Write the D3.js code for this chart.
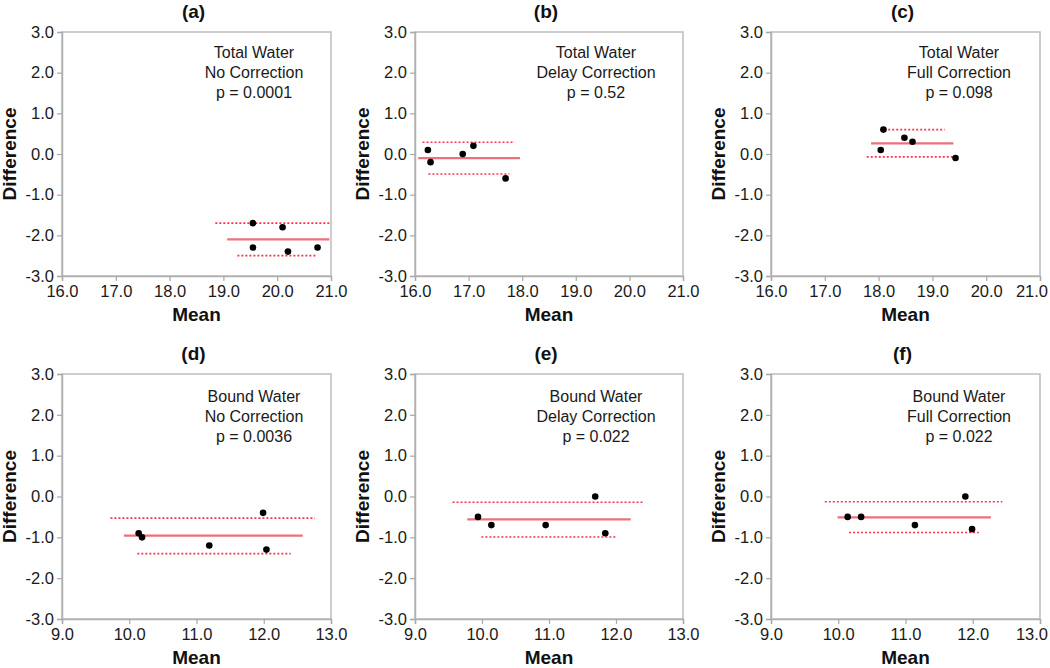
<!DOCTYPE html>
<html>
<head>
<meta charset="utf-8">
<script src="https://cdn.jsdelivr.net/npm/d3@7"></script>
<style>
  html, body { margin: 0; padding: 0; background: #fff; }
  svg { display: block; font-family: "Liberation Sans", Arial, sans-serif; }
</style>
</head>
<body>
<svg id="chart" width="1050" height="668"></svg>
<script>
// ---------- data ----------
const panelIds = ["(a)", "(b)", "(c)", "(d)", "(e)", "(f)"];
const waterType = ["Total Water", "Total Water", "Total Water", "Bound Water", "Bound Water", "Bound Water"];
const correction = ["No Correction", "Delay Correction", "Full Correction", "No Correction", "Delay Correction", "Full Correction"];
const pValues = ["p = 0.0001", "p = 0.52", "p = 0.098", "p = 0.0036", "p = 0.022", "p = 0.022"];

const xDomains = [[16, 21], [16, 21], [16, 21], [9, 13], [9, 13], [9, 13]];
const yDomain = [-3, 3];
const xTicksTop = [16, 17, 18, 19, 20, 21];
const xTicksBottom = [9, 10, 11, 12, 13];
const yTicks = [-3, -2, -1, 0, 1, 2, 3];

const pointMeans = [
  [19.55, 20.10, 19.55, 20.20, 20.75],
  [16.24, 16.29, 16.89, 17.09, 17.69],
  [18.09, 18.04, 18.48, 18.63, 19.43],
  [10.14, 10.19, 11.19, 11.99, 12.04],
  [9.94, 10.14, 10.95, 11.69, 11.84],
  [10.14, 10.34, 11.14, 11.89, 11.99]
];
const pointDiffs = [
  [-1.7, -1.8, -2.3, -2.4, -2.3],
  [0.1, -0.2, 0.0, 0.2, -0.6],
  [0.6, 0.1, 0.4, 0.3, -0.1],
  [-0.9, -1.0, -1.2, -0.4, -1.3],
  [-0.5, -0.7, -0.7, 0.0, -0.9],
  [-0.5, -0.5, -0.7, 0.0, -0.8]
];
// bias line: [xStart, xEnd, difference]
const biasLines = [
  [19.07, 20.97, -2.10],
  [16.06, 17.96, -0.10],
  [17.86, 19.39, 0.26],
  [9.92, 12.58, -0.96],
  [9.78, 12.22, -0.56],
  [9.99, 12.27, -0.51]
];
const upperLimits = [
  [18.85, 21.00, -1.70],
  [16.14, 17.86, 0.29],
  [18.03, 19.23, 0.60],
  [9.72, 12.76, -0.53],
  [9.56, 12.40, -0.14],
  [9.80, 12.44, -0.13]
];
const lowerLimits = [
  [19.26, 20.72, -2.50],
  [16.25, 17.76, -0.49],
  [17.78, 19.45, -0.07],
  [10.12, 12.40, -1.40],
  [9.99, 12.01, -0.99],
  [10.16, 12.09, -0.88]
];

// ---------- layout ----------
const W = 1050;
const lefts = [62, 415, 771];
const rights = [331, 683, 1040];
const tops = [32, 374];
const bottoms = [276, 619];
const annoCenterOffset = [192, 181, 188, 192, 181, 188];

const svg = d3.select("#chart");
const fmt = d => d.toFixed(1);

panelIds.forEach((id, i) => {
  const col = i % 3, row = Math.floor(i / 3);
  const L = lefts[col], R = rights[col], T = tops[row], B = bottoms[row];
  const x = d3.scaleLinear().domain(xDomains[i]).range([L, R]);
  const y = d3.scaleLinear().domain(yDomain).range([B, T]);
  const g = svg.append("g");

  // frame
  g.append("rect")
    .attr("x", L).attr("y", T).attr("width", R - L).attr("height", B - T)
    .attr("fill", "none").attr("stroke", "#bdbdbd").attr("stroke-width", 1.5);

  // axes
  const xAxis = d3.axisBottom(x).tickValues(row === 0 ? xTicksTop : xTicksBottom)
    .tickFormat(fmt).tickSizeOuter(0).tickSize(5).tickPadding(4);
  const yAxis = d3.axisLeft(y).tickValues(yTicks).tickFormat(fmt)
    .tickSizeOuter(0).tickSize(5).tickPadding(3);

  const gx = g.append("g").attr("transform", `translate(0,${B})`).call(xAxis);
  const gy = g.append("g").attr("transform", `translate(${L},0)`).call(yAxis);
  [gx, gy].forEach(a => {
    a.select(".domain").attr("stroke", "#b0b0b0").attr("stroke-width", 1.5);
    a.selectAll(".tick line").attr("stroke", "#a8a8a8").attr("stroke-width", 1.2);
    a.selectAll(".tick text").attr("fill", "#1a1a1a")
      .style("font-size", "16.5px").style("font-family", "'Liberation Sans', Arial, sans-serif");
  });
  // keep the right-most x tick label inside the page
  gx.selectAll(".tick text").each(function () {
    const bb = this.getBBox();
    const tr = this.parentNode.getAttribute("transform");
    const tx = +/translate\(([-\d.]+)/.exec(tr)[1];
    const overflow = tx + bb.x + bb.width - (W - 2);
    if (overflow > 0) d3.select(this).attr("dx", -overflow);
  });

  // title
  g.append("text").attr("x", (L + R) / 2 - 3).attr("y", T - 14)
    .attr("text-anchor", "middle").attr("font-weight", "bold").attr("font-size", 19)
    .attr("fill", "#111").text(id);

  // axis titles
  g.append("text").attr("x", (L + R) / 2).attr("y", B + 45)
    .attr("text-anchor", "middle").attr("font-weight", "bold").attr("font-size", 19)
    .attr("fill", "#111").text("Mean");
  g.append("text")
    .attr("transform", `translate(${L - 46},${(T + B) / 2}) rotate(-90)`)
    .attr("text-anchor", "middle").attr("font-weight", "bold").attr("font-size", 19)
    .attr("fill", "#111").text("Difference");

  // annotation
  const ax = L + annoCenterOffset[i];
  [waterType[i], correction[i], pValues[i]].forEach((t, k) => {
    g.append("text").attr("x", ax).attr("y", T + 26 + row * 2 + k * 20)
      .attr("text-anchor", "middle").attr("font-size", 16).attr("fill", "#1a1a1a").text(t);
  });

  // limit lines
  const drawLine = (ln, color, width, dash) => {
    g.append("line")
      .attr("x1", x(ln[0])).attr("x2", x(ln[1]))
      .attr("y1", y(ln[2])).attr("y2", y(ln[2]))
      .attr("stroke", color).attr("stroke-width", width)
      .attr("stroke-dasharray", dash);
  };
  drawLine(upperLimits[i], "#ff3050", 1.6, "2,2");
  drawLine(lowerLimits[i], "#ff3050", 1.6, "2,2");
  drawLine(biasLines[i], "#ee6f7e", 2.2, null);

  // points
  g.selectAll("circle.pt").data(pointMeans[i].map((m, k) => [m, pointDiffs[i][k]]))
    .enter().append("circle").attr("class", "pt")
    .attr("cx", d => x(d[0])).attr("cy", d => y(d[1]))
    .attr("r", 3.3).attr("fill", "#000");
});
</script>
</body>
</html>
